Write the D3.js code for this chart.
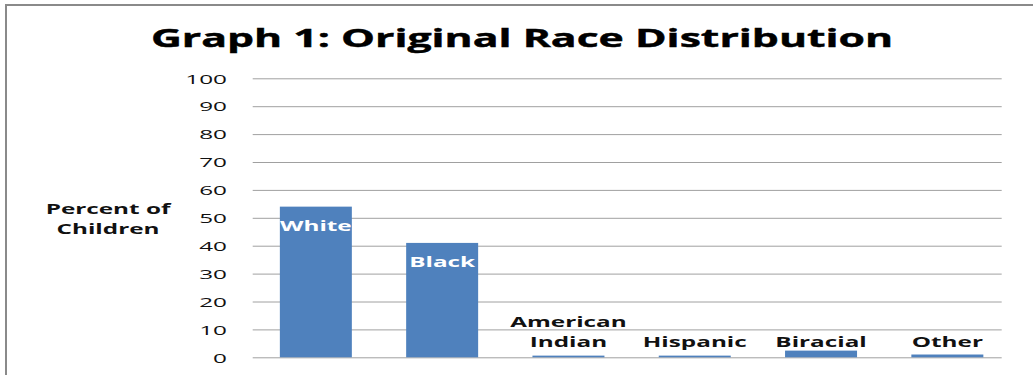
<!DOCTYPE html>
<html>
<head>
<meta charset="utf-8">
<script src="https://cdn.jsdelivr.net/npm/d3@7"></script>
<style>
  html, body { margin: 0; padding: 0; background: #fff; }
  svg { display: block; }
  text { font-family: "Open Sans", "Noto Sans", sans-serif; }
</style>
</head>
<body>
<svg id="chart" width="1033" height="375"></svg>
<script>
// Share of children by race (percent)
const categories = ["White", "Black", "American Indian", "Hispanic", "Biracial", "Other"];
const percents = [54, 41, 0.6, 0.6, 2.4, 1.0];
const yTicks = [0, 10, 20, 30, 40, 50, 60, 70, 80, 90, 100];
const titleText = "Graph 1: Original Race Distribution";
const yAxisLines = ["Percent of", "Children"];

const W = 1033, H = 375;
const plot = { left: 252.7, right: 1001.7, top: 78.3, bottom: 357.3, bandRight: 1010.5 };
const SX = 1.8;        // horizontal stretch applied to the body text runs
const SX_TITLE = 1.71; // horizontal stretch for the title
const barColor = "#4f81bd";
const gridColor = "#a0a0a0";

const svg = d3.select("#chart");
svg.append("rect").attr("width", W).attr("height", H).attr("fill", "#fff");

// frame (top and left edges visible)
svg.append("path")
  .attr("d", `M6,${H} V5 H${W}`)
  .attr("fill", "none")
  .attr("stroke", "#8a8a8a")
  .attr("stroke-width", 2);

const x = d3.scaleBand()
  .domain(categories)
  .range([plot.left, plot.bandRight])
  .paddingInner(0.43)
  .paddingOuter(0.215);

const y = d3.scaleLinear()
  .domain([0, 100])
  .range([plot.bottom, plot.top]);

// draws a text run stretched horizontally about its anchor point
function stretched(g, px, py, str, sx = SX) {
  return g.append("text")
    .attr("transform", `translate(${px},${py}) scale(${sx},1)`)
    .text(str);
}

// gridlines and tick labels via a left axis
const yAxis = d3.axisLeft(y)
  .tickValues(yTicks)
  .tickSize(-(plot.right - plot.left))
  .tickPadding(0)
  .tickFormat(d3.format("d"));

const axisG = svg.append("g")
  .attr("transform", `translate(${plot.left},0)`)
  .call(yAxis);
axisG.select(".domain").remove();
axisG.selectAll(".tick line")
  .attr("stroke", gridColor)
  .attr("stroke-width", 1);
axisG.selectAll(".tick text").remove();
axisG.selectAll(".tick").each(function(d) {
  stretched(d3.select(this), 227 - plot.left, 0, d)
    .attr("dy", "0.35em")
    .attr("text-anchor", "end")
    .attr("font-size", 13.5)
    .attr("fill", "#111");
});

// bars
svg.append("g").selectAll("rect")
  .data(categories)
  .join("rect")
  .attr("x", d => x(d))
  .attr("width", x.bandwidth())
  .attr("y", (d, i) => y(percents[i]))
  .attr("height", (d, i) => y(0) - y(percents[i]))
  .attr("fill", barColor);

// category labels: inside the tall bars, above the short ones
const labelG = svg.append("g");
categories.forEach((c, i) => {
  const cx = x(c) + x.bandwidth() / 2;
  const v = percents[i];
  if (v >= 10) {
    stretched(labelG, cx, y(v) + 24, c)
      .attr("text-anchor", "middle")
      .attr("font-size", 13.5)
      .attr("font-weight", 700)
      .attr("fill", "#fff");
  } else {
    const words = c.split(" ");
    const base = y(0) - 10.6;
    words.forEach((w, k) => {
      stretched(labelG, cx, base - (words.length - 1 - k) * 20, w)
        .attr("text-anchor", "middle")
        .attr("font-size", 13.5)
        .attr("font-weight", 700)
        .attr("fill", "#111");
    });
  }
});

// y-axis title
yAxisLines.forEach((t, k) => {
  stretched(svg, 108, 214.3 + k * 20, t)
    .attr("text-anchor", "middle")
    .attr("font-size", 13.5)
    .attr("font-weight", 700)
    .attr("fill", "#111");
});

// chart title
stretched(svg, 522, 47, titleText, SX_TITLE)
  .attr("text-anchor", "middle")
  .attr("font-size", 25)
  .attr("font-weight", 700)
  .attr("fill", "#000")
  .attr("stroke", "#000")
  .attr("stroke-width", 0.4);
</script>
</body>
</html>
